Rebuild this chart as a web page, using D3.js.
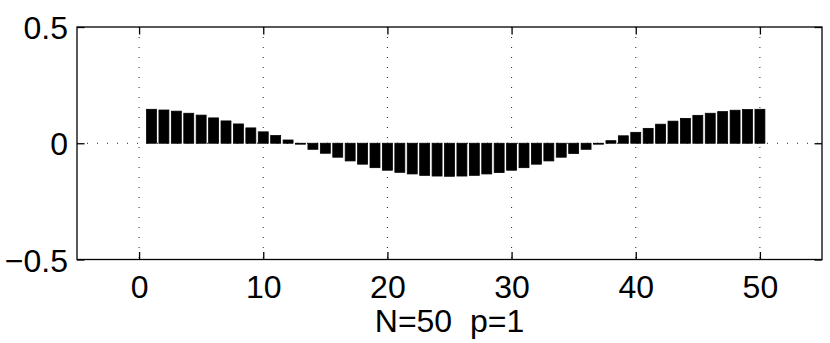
<!DOCTYPE html>
<html>
<head>
<meta charset="utf-8">
<script src="https://cdn.jsdelivr.net/npm/d3@7"></script>
<style>
  body { margin: 0; background: #fff; }
  svg { display: block; }
</style>
</head>
<body>
<svg width="830" height="343"></svg>
<script>
// bar values, index 1..50
const barIndex = d3.range(1, 51);
const barValues = [
  0.146, 0.143, 0.138, 0.129, 0.121, 0.109, 0.096, 0.083, 0.066, 0.049,
  0.033, 0.014, -0.004, -0.026, -0.043, -0.060, -0.076, -0.090, -0.105, -0.116,
  -0.125, -0.132, -0.138, -0.141, -0.142, -0.141, -0.138, -0.132, -0.126, -0.116,
  -0.105, -0.090, -0.076, -0.060, -0.044, -0.026, -0.004, 0.011, 0.032, 0.047,
  0.064, 0.082, 0.095, 0.107, 0.120, 0.129, 0.136, 0.142, 0.145, 0.146
];
const xTicks = [0, 10, 20, 30, 40, 50];
const yTicks = [-0.5, 0, 0.5];
const xLabel = "N=50  p=1";

const svg = d3.select("svg");
const plotL = 77, plotR = 822, plotT = 27, plotB = 259.5;
const font = "'Liberation Sans', Arial, Helvetica, sans-serif";

const xScale = d3.scaleLinear().domain([-5, 55]).range([plotL, plotR]);
const yScale = d3.scaleLinear().domain([-0.5, 0.5]).range([plotB, plotT]);

// dotted grid
svg.append("g").selectAll("line")
  .data(xTicks)
  .enter().append("line")
  .attr("x1", d => xScale(d)).attr("x2", d => xScale(d))
  .attr("y1", plotT).attr("y2", plotB)
  .style("stroke", "#222")
  .style("stroke-width", 1)
  .style("stroke-dasharray", "1,9");

svg.append("line")
  .attr("x1", plotL).attr("x2", plotR)
  .attr("y1", yScale(0)).attr("y2", yScale(0))
  .style("stroke", "#222")
  .style("stroke-width", 1)
  .style("stroke-dasharray", "1,9");

// bars
const bw = 0.8;
svg.append("g").selectAll("rect")
  .data(barIndex)
  .enter().append("rect")
  .attr("x", (d) => xScale(d - bw / 2))
  .attr("width", xScale(bw) - xScale(0))
  .attr("y", (d, i) => yScale(Math.max(0, barValues[i])))
  .attr("height", (d, i) => Math.abs(yScale(barValues[i]) - yScale(0)))
  .style("fill", "#000")
  .style("stroke", "#000")
  .style("stroke-width", 0.8);

// box
svg.append("rect")
  .attr("x", plotL).attr("y", plotT)
  .attr("width", plotR - plotL).attr("height", plotB - plotT)
  .style("fill", "none")
  .style("stroke", "#000")
  .style("stroke-width", 1.3);

// inward tick marks
const tl = 7.5;
const gx = svg.append("g")
  .attr("transform", "translate(0," + plotB + ")")
  .call(d3.axisBottom(xScale).tickValues(xTicks).tickSizeInner(-tl).tickSizeOuter(0).tickFormat(d3.format("d")));
gx.select(".domain").remove();
gx.selectAll("line").style("stroke-width", 1.3);
gx.selectAll("text")
  .attr("y", 38).attr("dy", null)
  .style("font-family", font)
  .style("font-size", "32px")
  .style("fill", "#000");

const gxt = svg.append("g")
  .attr("transform", "translate(0," + plotT + ")")
  .call(d3.axisTop(xScale).tickValues(xTicks).tickSizeInner(-tl).tickSizeOuter(0).tickFormat(""));
gxt.select(".domain").remove();
gxt.selectAll("line").style("stroke-width", 1.3);

const gy = svg.append("g")
  .attr("transform", "translate(" + plotL + ",0)")
  .call(d3.axisLeft(yScale).tickValues(yTicks).tickSizeInner(-tl).tickSizeOuter(0)
    .tickFormat(d => d < 0 ? "\u2212" + Math.abs(d) : String(d)));
gy.select(".domain").remove();
gy.selectAll("line").style("stroke-width", 1.3);
gy.selectAll("text")
  .attr("x", -9)
  .attr("dy", "0.36em")
  .style("font-family", font)
  .style("font-size", "32px")
  .style("fill", "#000");

const gyr = svg.append("g")
  .attr("transform", "translate(" + plotR + ",0)")
  .call(d3.axisRight(yScale).tickValues(yTicks).tickSizeInner(-tl).tickSizeOuter(0).tickFormat(""));
gyr.select(".domain").remove();
gyr.selectAll("line").style("stroke-width", 1.3);

// x label
svg.append("text")
  .attr("x", (plotL + plotR) / 2)
  .attr("y", 332)
  .attr("text-anchor", "middle")
  .style("font-family", font)
  .style("font-size", "32px")
  .style("white-space", "pre")
  .text(xLabel);
</script>
</body>
</html>
